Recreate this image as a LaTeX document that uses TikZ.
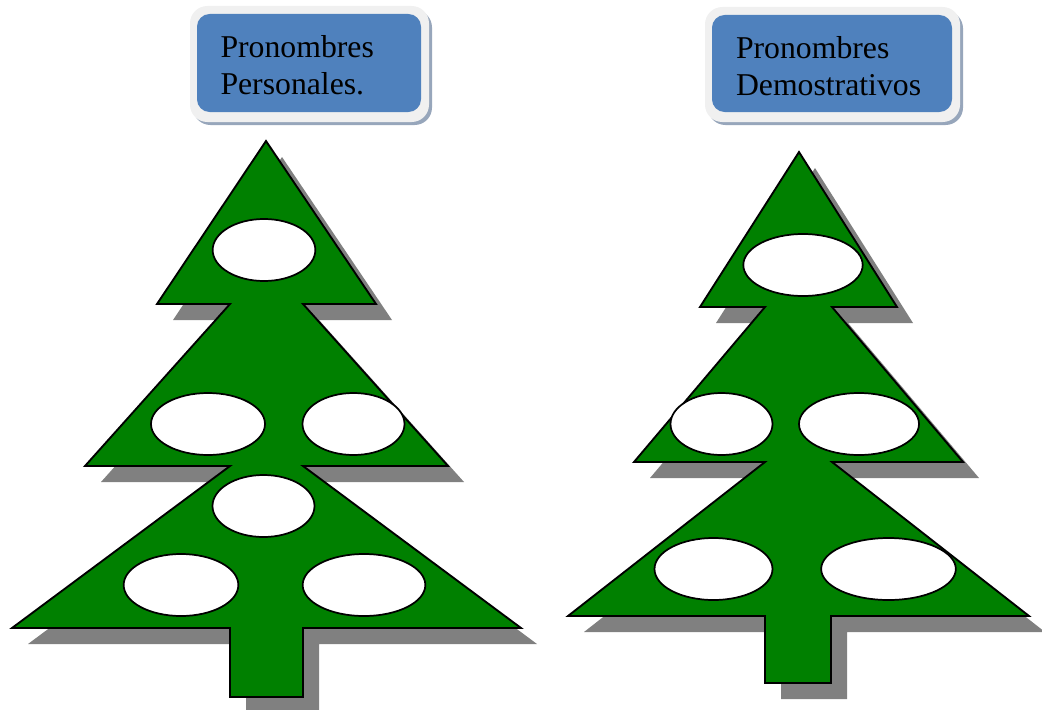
\documentclass[tikz,border=0pt]{standalone}
\usepackage{fontspec}
\setmainfont{Liberation Serif}
\usetikzlibrary{shapes.geometric}
\definecolor{treegreen}{HTML}{008000}
\definecolor{treeshadow}{HTML}{808080}
\definecolor{boxblue}{HTML}{4F81BD}
\definecolor{boxframe}{HTML}{F0F0F0}
\definecolor{boxshadow}{HTML}{97A6BB}
\tikzset{
  treeshape/.style={fill=treegreen,draw=black,line width=1.4pt,line join=miter},
  shadowshape/.style={fill=treeshadow,draw=none},
  hole/.style={ellipse,fill=white,draw=black,line width=1.3pt,inner sep=0pt,outer sep=0pt},
  framebox/.style={fill=boxframe,draw=none,rounded corners=13pt},
  shadowbox/.style={fill=boxshadow,draw=none,rounded corners=13pt},
  bluebox/.style={fill=boxblue,draw=none,rounded corners=9.5pt},
  label/.style={anchor=base west,inner sep=0pt,outer sep=0pt,font=\fontsize{23.8pt}{27.75pt}\selectfont,text=black,align=left}
}
\newcommand{\treeone}{(266,141) -- (376,304) -- (303,304) -- (448,466) -- (303,466) -- (521,628) -- (303,628) -- (303,697) -- (230,697) -- (230,628) -- (12,628) -- (230,466) -- (85,466) -- (230,304) -- (157,304) -- cycle}
\newcommand{\treetwo}{(799,152) -- (897,307) -- (832,307) -- (963,462) -- (832,462) -- (1029,616) -- (831,616) -- (831,683) -- (765,683) -- (765,616) -- (568,616) -- (765,462) -- (634,462) -- (765,307) -- (700,307) -- cycle}
\begin{document}
\begin{tikzpicture}[x=0.75pt,y=-0.75pt]
\clip (0,0) rectangle (1042,710);
% header boxes
\fill[shadowbox] (193,10) rectangle (432,125);
\fill[framebox] (190,6) rectangle (429,122);
\fill[bluebox] (197,14) rectangle (421,112);
\node[label] (personales) at (220.5,94) {Pronombres\\Personales.};
\fill[shadowbox] (708,11) rectangle (963,125);
\fill[framebox] (705,7) rectangle (960,122);
\fill[bluebox] (712,15) rectangle (952,112);
\node[label] (demostrativos) at (736,95) {Pronombres\\Demostrativos};
% trees
\begin{scope}[shift={(16,16)}]
\fill[shadowshape] \treeone;
\fill[shadowshape] \treetwo;
\end{scope}
\draw[treeshape] \treeone;
\draw[treeshape] \treetwo;
% holes, tree one
\node[hole,minimum width=77pt,minimum height=46.5pt] (a1) at (264,250) {};
\node[hole,minimum width=85.5pt,minimum height=46.5pt] (a2) at (208,424) {};
\node[hole,minimum width=76.5pt,minimum height=46.5pt] (a3) at (353.5,424) {};
\node[hole,minimum width=76.5pt,minimum height=46.5pt] (a4) at (263.5,506) {};
\node[hole,minimum width=86pt,minimum height=46.5pt] (a5) at (181,585) {};
\node[hole,minimum width=92pt,minimum height=46.5pt] (a6) at (364,585) {};
% holes, tree two
\node[hole,minimum width=89.5pt,minimum height=46.5pt] (b1) at (803,265) {};
\node[hole,minimum width=76.5pt,minimum height=46.5pt] (b2) at (721.5,424) {};
\node[hole,minimum width=90pt,minimum height=46.5pt] (b3) at (859,424) {};
\node[hole,minimum width=88.5pt,minimum height=46.5pt] (b4) at (713.5,569) {};
\node[hole,minimum width=101pt,minimum height=46.5pt] (b5) at (888.5,569) {};
\end{tikzpicture}
\end{document}
